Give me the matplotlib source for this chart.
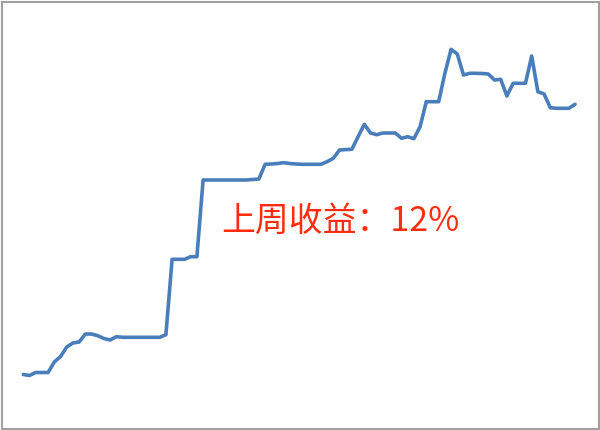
import matplotlib
matplotlib.use("Agg")
import matplotlib.pyplot as plt
from matplotlib.patches import Rectangle

plt.rcParams['font.family'] = ['Noto Sans CJK SC', 'DejaVu Sans']

# cumulative return values (%), one per period
returns = [
    0.15, 0.05, 0.35, 0.35, 0.35, 1.40, 1.95, 2.90, 3.30, 3.40,
    4.20, 4.20, 4.03, 3.75, 3.60, 3.93, 3.87,
    3.87, 3.87, 3.87, 3.87, 3.87, 3.87,
    4.13,
    11.67, 11.67, 11.67, 11.93, 11.93,
    19.60, 19.60, 19.60, 19.60, 19.60, 19.60, 19.60, 19.60,
    19.65, 19.70,
    21.17, 21.20, 21.25, 21.33, 21.25, 21.20,
    21.17, 21.17, 21.17, 21.17,
    21.43, 21.77, 22.60, 22.64, 22.67, 23.93, 25.17, 24.30, 24.13, 24.30,
    24.30, 24.30, 23.77, 23.93, 23.73, 24.93, 27.43, 27.43, 27.43, 30.27,
    32.67, 32.20, 30.10, 30.27, 30.27, 30.25, 30.20, 29.60, 29.67, 28.00,
    29.27, 29.27, 29.27, 32.00, 28.43, 28.20, 26.83, 26.77, 26.77, 26.77,
    27.17,
]
periods = list(range(len(returns)))
label = "上周收益：12%"

fig = plt.figure(figsize=(6.0, 4.3), dpi=100)
ax = fig.add_axes([0, 0, 1, 1])
ax.plot(periods, returns, color='#4A7EBB', lw=2.6, solid_joinstyle='round',
        solid_capstyle='round')
ax.set_xlim(-3.76, 93.02)
ax.set_ylim(-5.4, 37.6)
ax.axis('off')

fig.text(221 / 600, 1 - 231 / 430, label, color='#FF2D0F', fontsize=24.4,
         ha='left', va='baseline')

fig.patches.append(Rectangle((1.5 / 600, 1.5 / 430), 597 / 600, 427 / 430,
                             transform=fig.transFigure, fill=False,
                             edgecolor='#A0A0A0', lw=1.5))

fig.savefig('out.png', dpi=100, facecolor='white')
